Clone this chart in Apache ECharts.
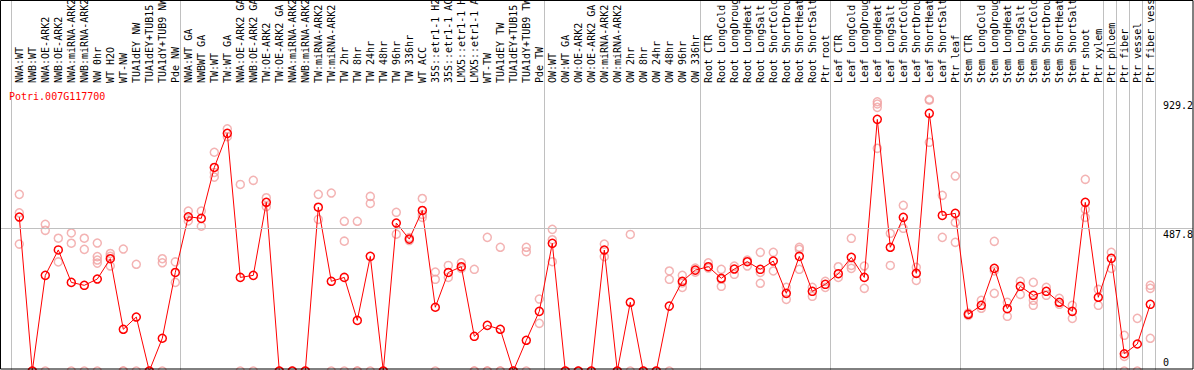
<!DOCTYPE html>
<html><head><meta charset="utf-8">
<script src="https://cdn.jsdelivr.net/npm/echarts@6/dist/echarts.min.js"></script>
<style>html,body{margin:0;padding:0;background:#fff}#c{width:1194px;height:370px}</style>
</head><body><div id="c"></div>
<script>
const chartTitle = 'Potri.007G117700';
const categories = [
 'NWA:WT','NWB:WT','NWA:OE-ARK2','NWB:OE-ARK2','NWA:miRNA-ARK2','NWB:miRNA-ARK2','NW 0hr','WT H2O','WT-NW','TUA1dEY NW',
 'TUA1dEY+TUB15','TUA1dY+TUB9 NW','Pde NW','NWA:WT GA','NWBWT GA','TW:WT','TW:WT GA','NWA:OE-ARK2 GA','NWB:OE-ARK2 GA','TW:OE-ARK2',
 'TW:OE-ARK2 GA','NWA:miRNA-ARK2','NWB:miRNA-ARK2','TW:miRNA-ARK2','TW:miRNA-ARK2','TW 2hr','TW 8hr','TW 24hr','TW 48hr','TW 96hr',
 'TW 336hr','WT ACC','35S::etr1-1 H2','35S::etr1-1 AC','LMX5::etr1-1 H','LMX5::etr1-1 A','WT-TW','TUA1dEY TW','TUA1dEY+TUB15','TUA1dY+TUB9 TW',
 'Pde TW','OW:WT','OW:WT GA','OW:OE-ARK2','OW:OE-ARK2 GA','OW:miRNA-ARK2','OW:miRNA-ARK2','OW 2hr','OW 8hr','OW 24hr',
 'OW 48hr','OW 96hr','OW 336hr','Root CTR','Root LongCold','Root LongDroug','Root LongHeat','Root LongSalt','Root ShortCold','Root ShortDrou',
 'Root ShortHeat','Root ShortSalt','Ptr root','Leaf CTR','Leaf LongCold','Leaf LongDroug','Leaf LongHeat','Leaf LongSalt','Leaf ShortCold','Leaf ShortDrou',
 'Leaf ShortHeat','Leaf ShortSalt','Ptr leaf','Stem CTR','Stem LongCold','Stem LongDroug','Stem LongHeat','Stem LongSalt','Stem ShortCold','Stem ShortDrou',
 'Stem ShortHeat','Stem ShortSalt','Ptr shoot','Ptr xylem','Ptr phloem','Ptr fiber','Ptr vessel','Ptr fiber vess'
];
const meanValues = [
 526.5, 0, 327, 414, 303, 293, 314.5, 384, 142.6, 184.6,
 0, 112, 337, 527.5, 522, 696, 812.6, 320, 327, 577,
 0, 0, 0, 560, 306.7, 320, 173, 392, 0, 506,
 451, 549, 218, 337, 356.6, 118.6, 156, 142.6, 0, 105,
 204, 436.6, 0, 0, 0, 413.7, 0, 235, 0, 0,
 222, 306.7, 345, 356.6, 317, 348.7, 373.7, 347.7, 376, 265.6,
 392, 272.5, 296.4, 332.6, 388.7, 320, 860.5, 423, 525.5, 334,
 881, 532, 539, 194, 224.6, 351, 213, 289.6, 258.8, 272.5,
 235, 204, 576.7, 252, 385.3, 59, 92.3, 228
];
const replicates = [
 [604, 541, 434], [0, 0], [501.5, 481, 0], [454, 373], [472, 437, 0], [454, 416, 0], [437.6, 391, 379.5, 369, 0], [402, 392, 359], [417, 0, 0], [365, 0],
 [0, 0], [384, 370, 0], [373, 303], [547, 513], [547, 495], [748, 679, 663], [828, 801], [638, 0], [652, 0], [592.5, 562],
 [0, 0], [0, 0], [0, 0], [604, 518.6], [608.5, 0], [512, 444, 0], [512, 0, 0], [597, 573, 0], [0, 0], [542.6, 468],
 [456, 446], [590, 535, 525.5], [338.5, 313.5, 0], [361, 320], [370, 351], [347.7, 0, 0], [457, 0, 0], [423, 0, 0], [0, 0], [423, 408, 0],
 [246, 163], [484.4, 449, 373.7], [0, 0], [0, 0], [0, 0], [434, 391], [0, 0], [467, 0], [0, 0], [0, 0],
 [342, 313.5, 0], [327, 301, 286], [352, 338], [370, 352], [347.7, 313.5, 289.6], [359, 330.6], [379.5, 359], [405.8, 337, 300], [405.8, 342], [286, 245],
 [423, 416, 347.7], [286, 255.4], [306.7, 286], [356.6, 320], [453.7, 361, 351], [359, 282.7], [920.7, 913, 901.5, 761.4], [470.8, 361], [566.5, 487.9], [354.5, 310],
 [929.2, 926, 782], [600.7, 457], [666.7, 508, 440], [198, 190], [241.7, 214.4], [443.4, 342, 265.6], [235, 187], [306.7, 262], [303, 241.7, 224.6], [286, 258.8],
 [248.5, 228], [224.6, 180], [655.4, 552.8, 525.5], [279, 224.6], [405.8, 351], [122, 50, 0], [180, 0], [293, 282.7, 111.8]
];
const yTickValues = [0, 487.8, 929.2];
const gridLineValues = [487.8];
const groupStarts = [0, 13, 41, 53, 63, 73, 84, 85, 86, 87];

const FONT = 'DejaVu Sans Mono';
const RED = '#ff0000', PINK = '#f0a0a0', GRAY = '#c0c0c0';

// layout constants
const step = 13, firstX = 19.3, plotL = 1, plotR = 1193;
const xMin = -(firstX - plotL) / step;
const xMax = xMin + (plotR - plotL) / step;
const bandLeft = firstX - step / 2;
const bandWidth = step * categories.length;

const repPoints = [];
replicates.forEach((arr, i) => arr.forEach(v => repPoints.push([i, v])));
const linePoints = meanValues.map((v, i) => [i, v]);

const chart = echarts.init(document.getElementById('c'), null, {renderer: 'svg'});
chart.setOption({
  animation: false,
  backgroundColor: '#fff',
  title: {text: chartTitle, left: 9, top: 91, padding: 0,
    textStyle: {color: RED, fontFamily: FONT, fontSize: 10, fontWeight: 'normal'}},
  grid: [
    {left: plotL, right: 1194 - plotR, top: 85, bottom: -1, outerBoundsMode: 'none', containLabel: false},
    {left: bandLeft, width: bandWidth, top: 85, bottom: 0, outerBoundsMode: 'none', containLabel: false},
    {left: bandLeft - 1.5, width: bandWidth, top: 0, bottom: 0, outerBoundsMode: 'none', containLabel: false}
  ],
  xAxis: [
    {type: 'value', gridIndex: 0, position: 'top', min: xMin, max: xMax,
      axisLine: {show: true, lineStyle: {color: '#000', width: 1}}, axisTick: {show: false},
      axisLabel: {show: false}, splitLine: {show: false}},
    {type: 'category', gridIndex: 1, position: 'top', data: categories, boundaryGap: true,
      axisLine: {show: false}, axisTick: {show: false}, splitLine: {show: false},
      axisLabel: {interval: 0, rotate: 90, margin: 2, fontFamily: FONT, fontSize: 10, color: '#000', hideOverlap: false}},
    {type: 'category', gridIndex: 2, position: 'bottom', data: categories, boundaryGap: true,
      axisLine: {show: false}, axisTick: {show: false}, axisLabel: {show: false},
      splitLine: {show: true, interval: (i) => groupStarts.includes(i), lineStyle: {color: GRAY, width: 1}}}
  ],
  yAxis: [
    {type: 'value', gridIndex: 0, position: 'right', min: 0, max: 978,
      splitLine: {show: false}, axisLine: {show: false}, axisTick: {show: false},
      axisLabel: {inside: true, customValues: yTickValues, align: 'left', margin: 30,
        verticalAlign: 'top', verticalAlignMinLabel: 'bottom',
        formatter: (v) => v === yTickValues[0] ? '{lo|' + v + '}' : '{hi|' + v + '}',
        rich: {
          lo: {fontFamily: FONT, fontSize: 10, color: '#000', padding: [0, 0, 4, 0]},
          hi: {fontFamily: FONT, fontSize: 10, color: '#000', padding: [1, 0, 0, 0]}
        },
        fontFamily: FONT, fontSize: 10, color: '#000', showMinLabel: true, showMaxLabel: true}},
    {type: 'value', gridIndex: 1, show: false},
    {type: 'value', gridIndex: 2, show: false}
  ],
  series: [
    {type: 'scatter', xAxisIndex: 0, yAxisIndex: 0, data: repPoints, symbol: 'circle', symbolSize: 8,
      itemStyle: {color: 'rgba(0,0,0,0)', borderColor: PINK, borderWidth: 1.5}, silent: true, clip: false, z: 2},
    {type: 'line', xAxisIndex: 0, yAxisIndex: 0, data: linePoints, symbol: 'circle', symbolSize: 8,
      showAllSymbol: true, lineStyle: {color: RED, width: 1},
      itemStyle: {color: 'rgba(0,0,0,0)', borderColor: RED, borderWidth: 1.5}, clip: false, z: 3, silent: true,
      markLine: {silent: true, symbol: 'none', label: {show: false}, animation: false,
        lineStyle: {color: GRAY, width: 1, type: 'solid'},
        data: gridLineValues.map(v => ({yAxis: v}))}}
  ],
  graphic: [
    {type: 'rect', shape: {x: 0.5, y: 0.5, width: 1192.5, height: 368.5},
      style: {fill: 'none', stroke: '#000', lineWidth: 1}, z: 100, silent: true}
  ]
});
</script>
</body></html>
